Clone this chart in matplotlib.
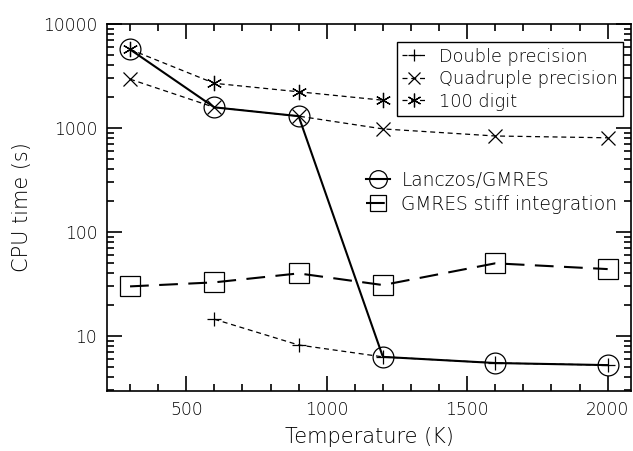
import numpy as np
import matplotlib
matplotlib.use("Agg")
import matplotlib.pyplot as plt
from matplotlib.ticker import FixedLocator, LogLocator, NullFormatter

# data
temps = [300, 600, 900, 1200, 1600, 2000]
lanczos = [5700, 1580, 1300, 6.3, 5.5, 5.25]
stiff = [30, 32.8, 40, 30.9, 50, 44]

double_t = [600, 900, 1200, 1600, 2000]
double_p = [14.5, 8.2, 6.3, 5.5, 5.25]
quad_t = [300, 600, 900, 1200, 1600, 2000]
quad_p = [2950, 1580, 1300, 980, 838, 805]
digit_t = [300, 600, 900, 1200]
digit_p = [5700, 2690, 2230, 1850]

plt.rcParams['font.family'] = 'DejaVu Sans'
plt.rcParams['font.weight'] = 'light'
plt.rcParams['axes.labelweight'] = 'light'
plt.rcParams['font.size'] = 12.3
plt.rcParams['text.color'] = 'black'

fig = plt.figure(figsize=(6.33, 4.51), dpi=100)
ax = fig.add_axes([107 / 633, 1 - 391 / 451, 524 / 633, 367 / 451])

h_dbl, = ax.plot(double_t, double_p, ls=(0, (4, 3)), lw=0.9, color='k',
                 marker='+', ms=10, mew=0.9)
h_quad, = ax.plot(quad_t, quad_p, ls=(0, (4, 3)), lw=0.9, color='k',
                  marker='x', ms=10, mew=0.9)
h_dig, = ax.plot(digit_t, digit_p, ls=(0, (4, 3)), lw=0.9, color='k',
                 marker=(6, 2, 0), ms=11, mew=0.9)
h_lan, = ax.plot(temps, lanczos, ls='-', lw=1.5, color='k',
                 marker='o', ms=15, mfc='none', mew=0.9)
h_gm, = ax.plot(temps, stiff, ls=(0, (9, 5)), lw=1.5, color='k',
                marker='s', ms=14, mfc='none', mew=0.9)

ax.set_yscale('log')
ax.set_xlim(218, 2083)
ax.set_ylim(2.96, 10000)

ax.xaxis.set_major_locator(FixedLocator([500, 1000, 1500, 2000]))
ax.xaxis.set_minor_locator(FixedLocator(np.arange(300, 2100, 100)))
ax.yaxis.set_major_locator(FixedLocator([10, 100, 1000, 10000]))
ax.yaxis.set_minor_locator(LogLocator(base=10, subs=np.arange(2, 10), numticks=20))
ax.yaxis.set_minor_formatter(NullFormatter())
ax.set_yticklabels(['10', '100', '1000', '10000'])

ax.tick_params(which='both', direction='in', top=True, right=True, width=1.2)
ax.tick_params(which='major', length=11, pad=7)
ax.tick_params(which='minor', length=5)
for s in ax.spines.values():
    s.set_linewidth(1.2)

ax.set_xlabel('Temperature (K)', fontsize=15, labelpad=6)
ax.set_ylabel('CPU time (s)', fontsize=15, labelpad=8)

leg1 = ax.legend([h_dbl, h_quad, h_dig],
                 ['Double precision', 'Quadruple precision', '100 digit'],
                 loc='upper right', bbox_to_anchor=(0.985, 0.95),
                 fancybox=False, framealpha=1, edgecolor='k', fontsize=12.8,
                 handlelength=1.25, handletextpad=0.8, borderpad=0.3,
                 labelspacing=0.25, borderaxespad=0, markerscale=0.9)
leg1.get_frame().set_linewidth(1.0)
ax.add_artist(leg1)
ax.legend([h_lan, h_gm], ['Lanczos/GMRES', 'GMRES stiff integration'],
          loc='upper left', bbox_to_anchor=(0.48, 0.62), frameon=False,
          handlelength=1.3, handletextpad=0.6, labelspacing=0.25,
          borderaxespad=0, fontsize=13.4, markerscale=0.85)

fig.savefig('out.png', dpi=100)
